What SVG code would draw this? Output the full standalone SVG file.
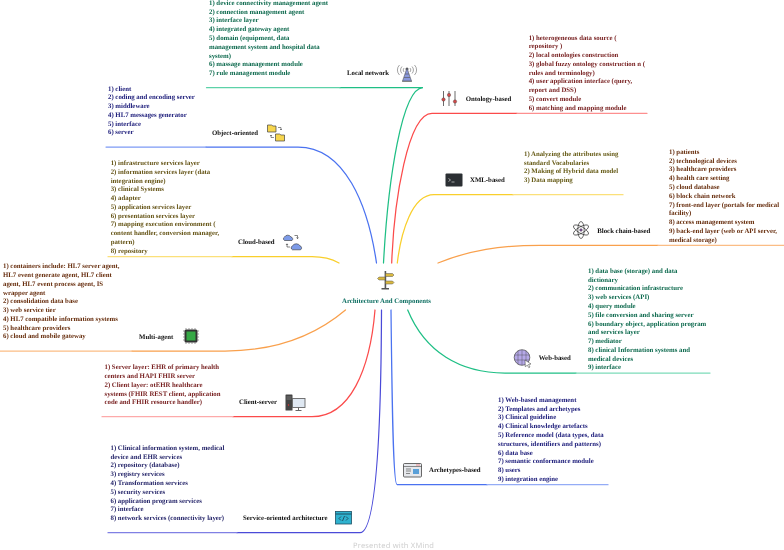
<svg xmlns="http://www.w3.org/2000/svg" width="784" height="550" viewBox="0 0 784 550">
<style>
text{font-family:"Liberation Serif","Times New Roman",serif;font-weight:bold;font-size:6.800px;text-rendering:geometricPrecision;filter:url(#soft)}
.l{fill:#111}
.g{fill:#0e6a4e}.n{fill:#20207c}.o{fill:#665518}.b{fill:#682f10}.m{fill:#761e1e}.y{fill:#675c18}.i{fill:#26266a}
.c{fill:none;stroke-width:1.250;stroke-linecap:round}
</style>
<defs><filter id="soft" x="-2%" y="-20%" width="104%" height="140%"><feGaussianBlur stdDeviation="0.22"/></filter></defs>
<rect width="784" height="550" fill="#fff"/>
<g id="connectors">
<path class="c" stroke="#1fbf85" d="M383.500 263C388 180 402 87.700 423 87.700H340"/><path class="c" stroke="#5cd2a8" d="M340 87.700H206.500"/>
<path class="c" stroke="#4a72f0" d="M376.500 263C368 205 345 147 298 147H206"/><path class="c" stroke="#7d9af5" d="M206 147H106"/>
<path class="c" stroke="#fb4b4b" d="M391.700 263C394 200 408 113.300 432 113.300H517"/><path class="c" stroke="#fd8f8f" d="M517 113.300H647"/>
<path class="c" stroke="#f9cf2c" d="M397.300 263C401 232 412 194.700 434 194.700H513"/><path class="c" stroke="#fbe07a" d="M513 194.700H623"/>
<path class="c" stroke="#f9a04c" d="M438 263C470 250 500 245.300 540 245.300H658"/><path class="c" stroke="#fbbd85" d="M658 245.300H784"/>
<path class="c" stroke="#f9cf2c" d="M339 263C330 258 322 256.700 312 256.700H232"/><path class="c" stroke="#fbe07a" d="M232 256.700H108"/>
<path class="c" stroke="#f9a04c" d="M345.500 310C310 340 270 351 225 351H132"/><path class="c" stroke="#fbbd85" d="M132 351H0"/>
<path class="c" stroke="#fb4b4b" d="M375 310C370 370 350 416.700 312 416.700H233"/><path class="c" stroke="#fdaaaa" d="M233 416.700H102"/>
<path class="c" stroke="#4a4ad8" d="M381.500 310C381 460 374 532.700 360 532.700H237"/><path class="c" stroke="#8080e4" d="M237 532.700H108"/>
<path class="c" stroke="#4a72f0" d="M391 310C392 400 393 484.700 397 484.700H487"/><path class="c" stroke="#94acf6" d="M487 484.700H608"/>
<path class="c" stroke="#1fbf85" d="M407.700 310C425 352 460 373 505 373H576"/><path class="c" stroke="#7ddcb9" d="M576 373H710"/>
</g>
<g id="center">
<g id="center-icon"><rect x="384.600" y="271" width="1.600" height="18" fill="#555"/><rect x="381.500" y="288" width="7.500" height="1.500" fill="#555"/><path d="M385.500 273.500h7l1.500 1.500-1.500 1.500h-7zM385 277h-6l-1.500 1.500 1.500 1.500h6zM385.500 281h7l1.500 1.500-1.500 1.500h-7z" fill="#d9b83e" stroke="#555" stroke-width=".5"/></g>
<text x="342" y="303.300" style="fill:#0f6f62">Architecture And Components</text>
</g>
<g id="local-network">
<text class="l" x="347" y="75">Local network</text>
<g fill="none" stroke="#666" stroke-width=".6"><path d="M399.500 65a7 7 0 0 0 0 10M402 66.500a5 5 0 0 0 0 7M404 68a3 3 0 0 0 0 4M414.500 65a7 7 0 0 1 0 10M412 66.500a5 5 0 0 1 0 7M410 68a3 3 0 0 1 0 4"/></g>
<circle cx="407" cy="69" r="1.500" fill="#555"/>
<path d="M407 68l-4.500 13h9z" fill="#8a98dc" stroke="#555" stroke-width=".6"/><path d="M402 81.500h10M405 74h4M404 77.500h6" stroke="#555" stroke-width=".6"/>
<text class="g"><tspan x="209" y="4.900">1) device connectivity management agent</tspan><tspan x="209" dy="8.770">2) connection management agent</tspan><tspan x="209" dy="8.770">3) interface layer</tspan><tspan x="209" dy="8.770">4) integrated gateway agent</tspan><tspan x="209" dy="8.770">5) domain (equipment, data</tspan><tspan x="209" dy="8.770">management system and hospital data</tspan><tspan x="209" dy="8.770">system)</tspan><tspan x="209" dy="8.770">6) massage management module</tspan><tspan x="209" dy="8.770">7) rule management module</tspan></text>
</g>
<g id="object-oriented">
<text class="l" x="212" y="134.500">Object-oriented</text>
<path d="M267.500 125h4l1.500 1h3v6h-8.500zM275.500 134h4l1.500 1h3.500v6h-9z" fill="#f7d64e" stroke="#444" stroke-width=".7"/>
<path d="M278 127.500h3v2.500M280 129l1 1 1-1M274 137.500h-3v-2.500M270 136l1-1 1 1" fill="none" stroke="#444" stroke-width=".6"/>
<text class="n"><tspan x="108" y="90.500">1) client</tspan><tspan x="108" dy="8.770">2) coding and encoding server</tspan><tspan x="108" dy="8.770">3) middleware</tspan><tspan x="108" dy="8.770">4) HL7 messages generator</tspan><tspan x="108" dy="8.770">5) interface</tspan><tspan x="108" dy="8.770">6) server</tspan></text>
</g>
<g id="cloud-based">
<text class="l" x="238" y="244">Cloud-based</text>
<path d="M284.500 240.500a2 2 0 0 1 0-3.500a3.800 3.800 0 0 1 6.500 0a2 2 0 0 1 1 3.500zM292.500 249.800a2.200 2.200 0 0 1 0-4a4.500 4.500 0 0 1 7.500 0a2.200 2.200 0 0 1 .5 4z" fill="#7d9be8" stroke="#333" stroke-width=".6"/>
<path d="M294.500 235.500h3v3M296.500 237.500l1 1.200 1-1.200M290 247h-3v-3M286 245l1-1.200 1 1.200" fill="none" stroke="#333" stroke-width=".6"/>
<text class="o"><tspan x="110.700" y="165">1) infrastructure services layer</tspan><tspan x="110.700" dy="8.770">2) information services layer (data</tspan><tspan x="110.700" dy="8.770">integration engine)</tspan><tspan x="110.700" dy="8.770">3) clinical Systems</tspan><tspan x="110.700" dy="8.770">4) adapter</tspan><tspan x="110.700" dy="8.770">5) application services layer</tspan><tspan x="110.700" dy="8.770">6) presentation services layer</tspan><tspan x="110.700" dy="8.770">7) mapping execution environment (</tspan><tspan x="110.700" dy="8.770">content handler, conversion manager,</tspan><tspan x="110.700" dy="8.770">pattern)</tspan><tspan x="110.700" dy="8.770">8) repository</tspan></text>
</g>
<g id="multi-agent">
<text class="l" x="139" y="338.500">Multi-agent</text>
<rect x="184.500" y="329.500" width="13" height="13" rx="1.500" fill="#333"/><rect x="186.500" y="331.500" width="9" height="9" fill="#35a845"/>
<path d="M186 328v16M189 328v16M192 328v16M195 328v16M183 331h16M183 334h16M183 337h16M183 340h16" stroke="#333" stroke-width=".5" fill="none" stroke-dasharray="1.500 13"/>
<text class="b"><tspan x="3" y="268.200">1) containers include: HL7 server agent,</tspan><tspan x="3" dy="8.770">HL7 event generate agent, HL7 client</tspan><tspan x="3" dy="8.770">agent, HL7 event process agent, IS</tspan><tspan x="3" dy="8.770">wrapper agent</tspan><tspan x="3" dy="8.770">2) consolidation data base</tspan><tspan x="3" dy="8.770">3) web service tier</tspan><tspan x="3" dy="8.770">4) HL7 compatible information systems</tspan><tspan x="3" dy="8.770">5) healthcare providers</tspan><tspan x="3" dy="8.770">6) cloud and mobile gateway</tspan></text>
</g>
<g id="client-server">
<text class="l" x="239" y="404.200">Client-server</text>
<rect x="285.500" y="394.500" width="7" height="16" rx=".6" fill="#444"/><path d="M286.500 397h5M286.500 399h5" stroke="#aaa" stroke-width=".5"/><circle cx="288.500" cy="405" r=".7" fill="#e33"/>
<rect x="292.500" y="398.500" width="12.500" height="9" fill="#dfe8f2" stroke="#666" stroke-width=".9"/><path d="M298.500 407.500v2.500M295.500 410.500h6" stroke="#666"/>
<text class="m"><tspan x="104.500" y="369.200">1) Server layer: EHR of primary health</tspan><tspan x="104.500" dy="8.770">centers and HAPI FHIR server</tspan><tspan x="104.500" dy="8.770">2) Client layer: otEHR healthcare</tspan><tspan x="104.500" dy="8.770">systems (FHIR REST client, application</tspan><tspan x="104.500" dy="8.770">code and FHIR resource handler)</tspan></text>
</g>
<g id="service-oriented">
<text class="l" x="243" y="520.200">Service-oriented architecture</text>
<rect x="335.500" y="511.500" width="16" height="12.500" fill="#2fb2cf" stroke="#1f4f63" stroke-width=".8"/><path d="M335.500 514h16" stroke="#1f4f63"/>
<path d="M341 516.500l-2 2 2 2M346 516.500l2 2-2 2M344.500 516l-2 5" fill="none" stroke="#1a2a3a" stroke-width=".7"/>
<text class="i"><tspan x="110.500" y="449.900">1) Clinical information system, medical</tspan><tspan x="110.500" dy="8.770">device and EHR services</tspan><tspan x="110.500" dy="8.770">2) repository (database)</tspan><tspan x="110.500" dy="8.770">3) registry services</tspan><tspan x="110.500" dy="8.770">4) Transformation services</tspan><tspan x="110.500" dy="8.770">5) security services</tspan><tspan x="110.500" dy="8.770">6) application program services</tspan><tspan x="110.500" dy="8.770">7) interface</tspan><tspan x="110.500" dy="8.770">8) network services (connectivity layer)</tspan></text>
</g>
<g id="ontology-based">
<text class="l" x="465.700" y="100.900">Ontology-based</text>
<path d="M443.500 91v15M449 91v15M455 91v15" stroke="#444" stroke-width=".8"/>
<circle cx="443.500" cy="99.500" r="1.700" fill="#d24a4a" stroke="#444" stroke-width=".4"/><circle cx="449" cy="95" r="1.700" fill="#d24a4a" stroke="#444" stroke-width=".4"/><circle cx="455" cy="101.500" r="1.700" fill="#d24a4a" stroke="#444" stroke-width=".4"/>
<text class="m"><tspan x="528.700" y="39.500">1) heterogeneous data source (</tspan><tspan x="528.700" dy="8.770">repository )</tspan><tspan x="528.700" dy="8.770">2) local ontologies construction</tspan><tspan x="528.700" dy="8.770">3) global fuzzy ontology construction n (</tspan><tspan x="528.700" dy="8.770">rules and terminology)</tspan><tspan x="528.700" dy="8.770">4) user application interface (query,</tspan><tspan x="528.700" dy="8.770">report and DSS)</tspan><tspan x="528.700" dy="8.770">5) convert module</tspan><tspan x="528.700" dy="8.770">6) matching and mapping module</tspan></text>
</g>
<g id="xml-based">
<text class="l" x="470" y="181.900">XML-based</text>
<rect x="445.500" y="173.500" width="17" height="13" rx="1" fill="#2b2f33"/><path d="M448.500 178.500l2 1.500-2 1.500M451.500 182h3" fill="none" stroke="#eee" stroke-width=".6"/>
<text class="y"><tspan x="524" y="155.900">1) Analyzing the attributes using</tspan><tspan x="524" dy="8.770">standard Vocabularies</tspan><tspan x="524" dy="8.770">2) Making of Hybrid data model</tspan><tspan x="524" dy="8.770">3) Data mapping</tspan></text>
</g>
<g id="block-chain-based">
<text class="l" x="597.300" y="232.500">Block chain-based</text>
<g fill="none" stroke="#333" stroke-width=".7"><ellipse cx="581" cy="230" rx="8.500" ry="3.200" transform="rotate(90 581 230)"/><ellipse cx="581" cy="230" rx="8.500" ry="3.200" transform="rotate(30 581 230)"/><ellipse cx="581" cy="230" rx="8.500" ry="3.200" transform="rotate(150 581 230)"/></g><circle cx="581" cy="230" r="1.300" fill="#8a5aa8" stroke="#333" stroke-width=".4"/>
<text class="b"><tspan x="669" y="153.900">1) patients</tspan><tspan x="669" dy="8.770">2) technological devices</tspan><tspan x="669" dy="8.770">3) healthcare providers</tspan><tspan x="669" dy="8.770">4) health care setting</tspan><tspan x="669" dy="8.770">5) cloud database</tspan><tspan x="669" dy="8.770">6) block chain network</tspan><tspan x="669" dy="8.770">7) front-end layer (portals for medical</tspan><tspan x="669" dy="8.770">facility)</tspan><tspan x="669" dy="8.770">8) access management system</tspan><tspan x="669" dy="8.770">9) back-end layer (web or API server,</tspan><tspan x="669" dy="8.770">medical storage)</tspan></text>
</g>
<g id="web-based">
<text class="l" x="538.700" y="360.200">Web-based</text>
<circle cx="522" cy="357.500" r="7.800" fill="#b5a8e8" stroke="#444" stroke-width=".7"/>
<path d="M514.500 355h15M514.500 360h15M518 350.500v14M522 350v15M526 350.500v14" stroke="#444" stroke-width=".4" fill="none"/>
<path d="M525 360l6 4-2.500 .5 1.500 2.500-1.200 .7-1.500-2.500-2 1.500z" fill="#fff" stroke="#333" stroke-width=".5"/>
<text class="g"><tspan x="588" y="272.900">1) data base (storage) and data</tspan><tspan x="588" dy="8.770">dictionary</tspan><tspan x="588" dy="8.770">2) communication infrastructure</tspan><tspan x="588" dy="8.770">3) web services (API)</tspan><tspan x="588" dy="8.770">4) query module</tspan><tspan x="588" dy="8.770">5) file conversion and sharing server</tspan><tspan x="588" dy="8.770">6) boundary object, application program</tspan><tspan x="588" dy="8.770">and services layer</tspan><tspan x="588" dy="8.770">7) mediator</tspan><tspan x="588" dy="8.770">8) clinical Information systems and</tspan><tspan x="588" dy="8.770">medical devices</tspan><tspan x="588" dy="8.770">9) interface</tspan></text>
</g>
<g id="archetypes-based">
<text class="l" x="429" y="472.200">Archetypes-based</text>
<rect x="403.500" y="463.500" width="18" height="13.500" rx="1" fill="#e6e8ec" stroke="#444" stroke-width=".8"/><path d="M403.500 466.500h18" stroke="#444" stroke-width=".6"/><path d="M416 465h4" stroke="#e77" stroke-width=".8"/>
<path d="M406 469h5M406 471h5M406 473.500h4" stroke="#444" stroke-width=".6"/><rect x="413" y="469" width="6" height="5" fill="#5aa0d8"/>
<text class="n"><tspan x="498" y="401.900">1) Web-based management</tspan><tspan x="498" dy="8.770">2) Templates and archetypes</tspan><tspan x="498" dy="8.770">3) Clinical guideline</tspan><tspan x="498" dy="8.770">4) Clinical knowledge artefacts</tspan><tspan x="498" dy="8.770">5) Reference model (data types, data</tspan><tspan x="498" dy="8.770">structures, identifiers and patterns)</tspan><tspan x="498" dy="8.770">6) data base</tspan><tspan x="498" dy="8.770">7) semantic conformance module</tspan><tspan x="498" dy="8.770">8) users</tspan><tspan x="498" dy="8.770">9) integration engine</tspan></text>
</g>
<text x="353" y="548" style="font-family:'Noto Sans',sans-serif;font-weight:normal;font-size:7.500px;fill:#cfcfcf;letter-spacing:.2px">Presented with XMind</text>
</svg>
